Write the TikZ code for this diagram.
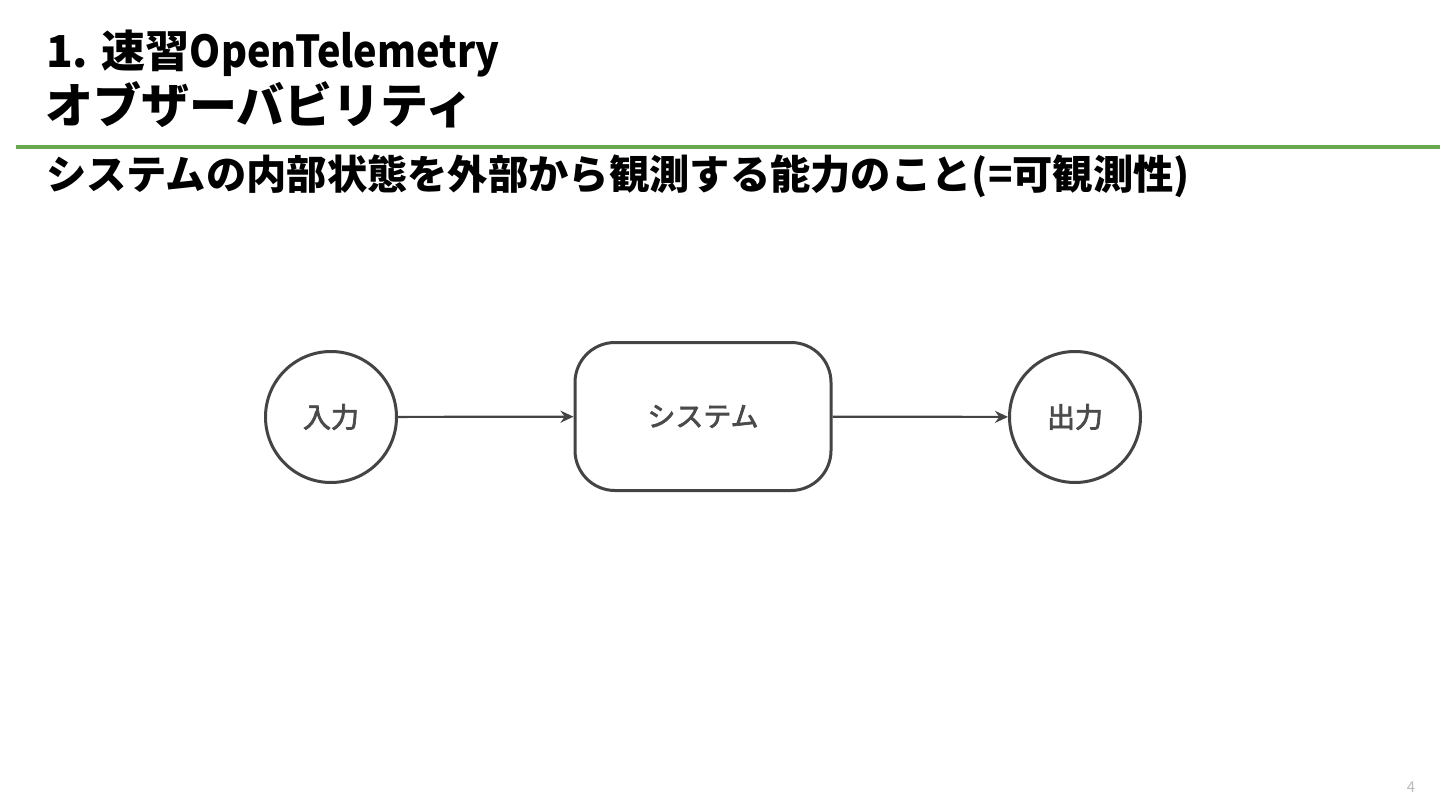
\documentclass[tikz,border=0pt]{standalone}
\usepackage{fontspec}
\usepackage{graphicx}
\setmainfont{Noto Sans CJK JP}
\newfontfamily\labelfont{Noto Sans CJK JP}[FakeBold=2.5]
\usetikzlibrary{arrows.meta}
\definecolor{ink}{HTML}{444444}
\definecolor{labelgray}{HTML}{4A4A4A}
\definecolor{accent}{HTML}{6AA84F}
\definecolor{pagegray}{HTML}{BBBBBB}
\tikzset{
  titletext/.style={anchor=base west, inner sep=0, text=black, font=\fontsize{44}{44}\selectfont\bfseries},
  titletexttwo/.style={anchor=base west, inner sep=0, text=black, font=\fontsize{48}{48}\selectfont\bfseries},
  subtext/.style={anchor=base west, inner sep=0, text=black, font=\fontsize{40.3}{40}\selectfont\bfseries},
  roundnode/.style={circle, draw=ink, line width=3pt, minimum size=131pt, inner sep=0, text=labelgray, font=\fontsize{28}{28}\labelfont},
  boxnode/.style={rectangle, rounded corners=40pt, draw=ink, line width=3pt, minimum width=256pt, minimum height=148pt, inner sep=0, text=labelgray, font=\fontsize{28}{28}\labelfont},
  flow/.style={draw=ink, line width=2.2pt, -{Stealth[length=13pt,width=12pt]}}
}
\begin{document}
\begin{tikzpicture}[x=1pt,y=-1pt]
\useasboundingbox[fill=white] (0,0) rectangle (1440,810);
\node[titletext] (t1) at (46,68) {1. 速習\scalebox{0.9}[1]{OpenTelemetry}};
\node[titletexttwo] (t2) at (45,124) {オブザーバビリティ};
\draw[accent, line width=4pt] (16,147) -- (1440,147);
\node[subtext] (sub) at (46,190) {システムの内部状態を外部から観測する能力のこと(=可観測性)};
\node[roundnode] (in) at (331,417) {入力};
\node[boxnode] (sys) at (703,416.5) {システム};
\node[roundnode] (out) at (1075,417) {出力};
\draw[flow] (in) -- (sys);
\draw[flow] (sys) -- (out);
\node[anchor=base, inner sep=0, text=pagegray, font=\fontsize{15}{15}\selectfont] (pg) at (1411,792) {4};
\end{tikzpicture}
\end{document}
